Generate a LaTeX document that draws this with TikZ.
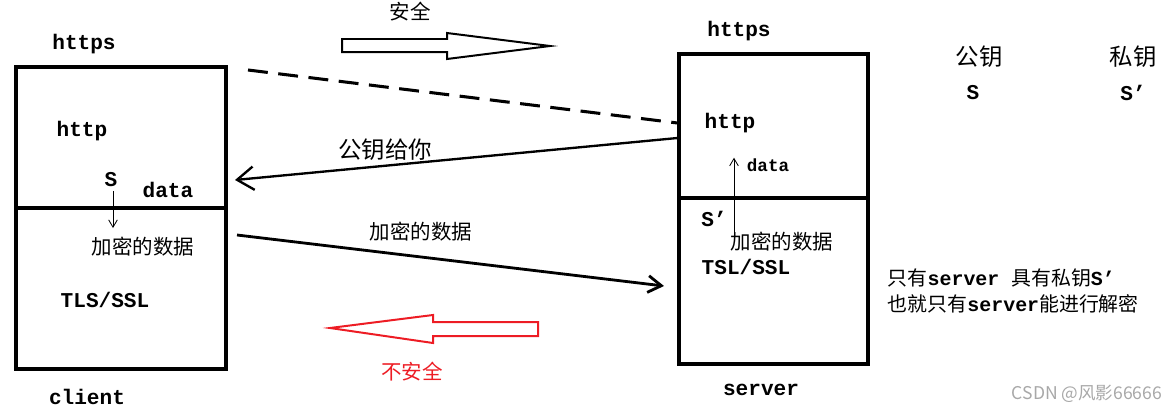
\documentclass[tikz,border=0pt]{standalone}
\usepackage{fontspec}
\setmainfont{Liberation Mono}
\newfontfamily\cjk{Noto Sans CJK SC}
\usetikzlibrary{arrows.meta}
\definecolor{cred}{HTML}{ED1C24}
\definecolor{cgrey}{HTML}{A8A8A8}
\tikzset{
  every picture/.style={line width=1.4pt},
  layer/.style={draw, line width=2.6pt, minimum width=#1, inner sep=0pt},
  split/.style={line width=2.6pt},
  lbl/.style={font=\fontsize{18}{20}\selectfont\bfseries, inner sep=0pt},
  lblsmall/.style={font=\fontsize{15}{17}\selectfont\bfseries, inner sep=0pt},
  zh/.style={font=\fontsize{17.5}{20}\selectfont\cjk, inner sep=0pt},
  zhbig/.style={font=\fontsize{20}{22}\selectfont\cjk, inner sep=0pt},
  note/.style={font=\fontsize{17}{25}\selectfont\bfseries, inner sep=0pt, anchor=west},
  msg/.style={line width=2pt, -{Straight Barb[length=5mm, width=7mm]}},
  inner/.style={line width=0.7pt, -{Straight Barb[length=2.2mm, width=2.6mm]}},
  fat/.style={line width=1.7pt, line join=miter},
}

\begin{document}
\begin{tikzpicture}[x=0.03cm, y=-0.03cm]
  \useasboundingbox (0,0) rectangle (1175,412);
  % client side
  \node[layer=6.3cm, minimum height=9.06cm] (client) at (121,218) {};
  \coordinate (cdiv) at (14,208);
  \draw[split] (cdiv) -- (cdiv -| client.east);
  \node[lbl] (chttps) at (84,44) {https};
  \node[lbl] (cname) at (87,397) {client};
  \node[lbl] (chttp) at (82,131) {http};
  \node[lbl] (cs) at (111,180) {S};
  \node[lbl] (cdata) at (168,190) {data};
  \node[zh] (cenc) at (143,247) {加密的数据};
  \node[lbl] (ctls) at (105,300) {TLS/SSL};
  \coordinate (cdown) at (113,228);
  \draw[inner] (cs.south -| cdown) ++(0,3) -- (cdown);
  % server side
  \node[layer=5.67cm, minimum height=9.3cm] (server) at (773.5,209) {};
  \coordinate (sdiv) at (677,198);
  \draw[split] (sdiv) -- (sdiv -| server.east);
  \node[lbl] (shttps) at (739,31) {https};
  \node[lbl] (sname) at (761,390) {server};
  \node[lbl] (shttp) at (730,123) {http};
  \node[lblsmall] (sdata) at (768,165) {data};
  \node[lbl] (spriv) at (714,219) {S’};
  \node[zh] (senc) at (782,242) {加密的数据};
  \node[lbl] (stls) at (746,267) {TSL/SSL};
  \coordinate (sfrom) at (734,235);
  \draw[inner] (sfrom) -- (sfrom |- sdata.north);
  % messages between them
  \coordinate (dstart) at (248,70);
  \draw[line width=2.6pt, dash pattern=on 17pt off 9pt] (dstart) -- (server.west |- 0,123);
  \coordinate (keyend) at (235,180);
  \draw[msg] (server.west |- 0,138) -- (keyend);
  \node[zhbig] (keylbl) at (385,150) {公钥给你};
  \coordinate (encstart) at (237,235);
  \coordinate (encend) at (664,286);
  \draw[line width=2.4pt, -{Straight Barb[length=4mm, width=5mm]}] (encstart) -- (encend);
  \node[zh] (enclbl) at (421,232) {加密的数据};
  % safe / unsafe
  \node[zh] (safe) at (410,12) {安全};
  \draw[fat] (342,39) -- (447,39) -- (447,33) -- (550,46) -- (447,59) -- (447,52) -- (342,52) -- cycle;
  \draw[fat, cred] (538,322) -- (433,322) -- (433,315) -- (330,328) -- (433,343) -- (433,336) -- (538,336) -- cycle;
  \node[zh, text=cred] (unsafe) at (412,372) {不安全};
  % key legend
  \node[zhbig] (pubk) at (979,57) {公钥};
  \node[lbl] (pubs) at (973,93) {S};
  \node[zhbig] (privk) at (1133,57) {私钥};
  \node[lbl] (privs) at (1133,93) {S’};
  \node[note] (note1) at (887,278) {{\mdseries\cjk 只有}server {\mdseries\cjk 具有私钥}S’};
  \node[note] (note2) at (887,304) {{\mdseries\cjk 也就只有}server{\mdseries\cjk 能进行解密}};
  \node[font=\fontsize{15}{17}\selectfont\cjk, text=cgrey, inner sep=0pt] (mark) at (1087,394) {CSDN @风影66666};
\end{tikzpicture}
\end{document}
